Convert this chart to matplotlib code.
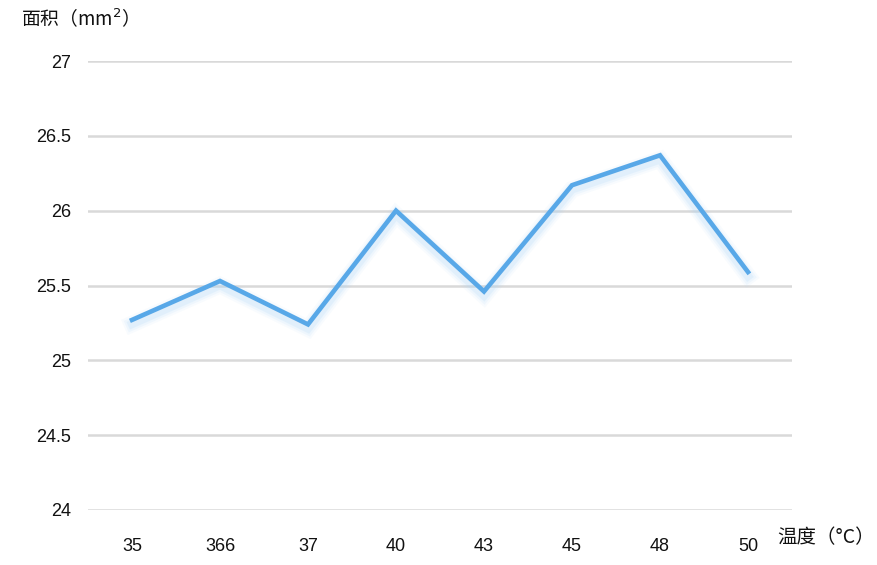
import matplotlib.pyplot as plt
import matplotlib.patheffects as pe

plt.rcParams['font.family'] = ['Liberation Sans', 'Noto Sans CJK SC', 'DejaVu Sans']

temps = ['35', '366', '37', '40', '43', '45', '48', '50']
areas = [25.27, 25.53, 25.24, 26.0, 25.46, 26.17, 26.37, 25.59]
y_ticks = [24, 24.5, 25, 25.5, 26, 26.5, 27]
y_labels = ['24', '24.5', '25', '25.5', '26', '26.5', '27']

fig = plt.figure(figsize=(8.78, 5.65), dpi=100)
ax = fig.add_axes([88 / 878, 55 / 565, 704 / 878, 449 / 565])

x = list(range(len(temps)))
line, = ax.plot(x, areas, color='#58a8e8', lw=3.3, solid_joinstyle='miter', zorder=3)
# soft glow under the line
glow = []
for w, a in [(12, 0.08), (9, 0.12), (6, 0.18)]:
    glow.append(pe.SimpleLineShadow(offset=(0, -3), shadow_color='#a8d4f7',
                                    alpha=a, linewidth=w))
line.set_path_effects(glow + [pe.Normal()])

ax.set_xlim(-0.5, len(temps) - 0.5)
ax.set_ylim(24, 27)
ax.set_yticks(y_ticks)
ax.set_yticklabels(y_labels)
ax.set_xticks(x)
ax.set_xticklabels(temps)
ax.tick_params(axis='both', length=0, labelsize=13, colors='#111111')
ax.tick_params(axis='y', pad=12)
ax.tick_params(axis='x', pad=20)
ax.grid(axis='y', color='#d9d9d9', lw=1.8)
ax.set_axisbelow(True)
for s in ax.spines.values():
    s.set_visible(False)

fig.text(21 / 878, 1 - 20 / 565, '面积（mm$^2$）', fontsize=13.5, color='#111111',
         ha='left', va='center', family=['Noto Sans CJK SC', 'DejaVu Sans'])
fig.text(777 / 878, 1 - 538 / 565, '温度（°C）', fontsize=14, color='#111111',
         ha='left', va='center', family=['Noto Sans CJK SC', 'DejaVu Sans'])

fig.savefig('out.png', dpi=100)
